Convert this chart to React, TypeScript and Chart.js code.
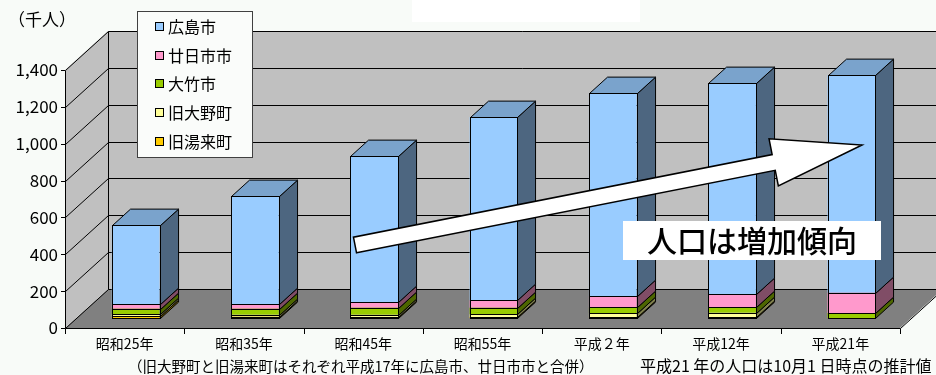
import React, { useEffect, useRef } from 'react';
import { Chart, registerables } from 'chart.js';

Chart.register(...registerables);

const categories = ['昭和25年', '昭和35年', '昭和45年', '昭和55年', '平成２年', '平成12年', '平成21年'];
const hiroshima = [431, 588, 794, 995, 1102, 1147, 1181];
const hatsukaichi = [24, 24, 30, 40, 62, 70, 110];
const otake = [30, 33, 38, 36, 31, 30, 27];
const ono = [11, 10, 11, 14, 20, 22, 0];
const yuki = [9, 7, 6, 6, 6, 6, 0];

const seriesNames = ['旧湯来町', '旧大野町', '大竹市', '廿日市市', '広島市'];
const seriesColors = ['#FFCC00', '#FFFF99', '#99CC00', '#FF99CC', '#99CCFF'];
const seriesData = [yuki, ono, otake, hatsukaichi, hiroshima];
const legendOrder = [4, 3, 2, 1, 0];

const yMax = 1400;
const yStep = 200;
const unitLabel = '（千人）';
const noteLeft = '（旧大野町と旧湯来町はそれぞれ平成17年に広島市、廿日市市と合併）';
const noteRight = '平成21 年の人口は10月1 日時点の推計値';
const calloutText = '人口は増加傾向';

const FONT = '"Noto Sans CJK JP", "Noto Sans", sans-serif';
const BG = '#f8fbf8';
const DX = 43;
const DY = 39;
const BAR_OFF = 0.26;
const BAR_DEPTH = 0.42;

function shade(hex: string, f: number) {
  const n = parseInt(hex.slice(1), 16);
  const r = Math.round(((n >> 16) & 255) * f);
  const g = Math.round(((n >> 8) & 255) * f);
  const b = Math.round((n & 255) * f);
  return `rgb(${r},${g},${b})`;
}

function poly(ctx: CanvasRenderingContext2D, pts: number[][], fill?: string, stroke?: string, lw = 1) {
  ctx.beginPath();
  ctx.moveTo(pts[0][0], pts[0][1]);
  for (let i = 1; i < pts.length; i++) ctx.lineTo(pts[i][0], pts[i][1]);
  ctx.closePath();
  if (fill) {
    ctx.fillStyle = fill;
    ctx.fill();
  }
  if (stroke) {
    ctx.strokeStyle = stroke;
    ctx.lineWidth = lw;
    ctx.stroke();
  }
}

function line(ctx: CanvasRenderingContext2D, pts: number[][], color = '#000', lw = 1) {
  ctx.beginPath();
  ctx.moveTo(pts[0][0], pts[0][1]);
  for (let i = 1; i < pts.length; i++) ctx.lineTo(pts[i][0], pts[i][1]);
  ctx.strokeStyle = color;
  ctx.lineWidth = lw;
  ctx.stroke();
}

const p = (v: number) => Math.round(v) + 0.5;

const threeDPlugin = {
  id: 'threeD',
  beforeDraw(chart: any) {
    const ctx = chart.ctx;
    ctx.save();
    ctx.fillStyle = BG;
    ctx.fillRect(0, 0, chart.width, chart.height);
    ctx.restore();
  },
  beforeDatasetsDraw(chart: any) {
    const ctx: CanvasRenderingContext2D = chart.ctx;
    const a = chart.chartArea;
    const y = chart.scales.y;
    const L = a.left, R = a.right, T = a.top, B = a.bottom;
    ctx.save();
    // floor
    poly(ctx, [[L, B], [R, B], [R + DX, B - DY], [L + DX, B - DY]], '#808080');
    // side wall
    poly(ctx, [[L, B], [L, T], [L + DX, T - DY], [L + DX, B - DY]], '#C0C0C0');
    // back wall
    ctx.fillStyle = '#C0C0C0';
    ctx.fillRect(L + DX, T - DY, chart.width, B - T);
    // gridlines
    y.ticks.forEach((t: any) => {
      const yy = y.getPixelForValue(t.value);
      line(ctx, [[p(L), p(yy)], [p(L + DX), p(yy - DY)], [chart.width + 5, p(yy - DY)]]);
    });
    line(ctx, [[p(L + DX), p(T - DY)], [p(L + DX), p(B - DY)]]);
    line(ctx, [[p(R), p(B)], [p(R + DX), p(B - DY)]]);
    ctx.restore();
    ctx.save();
    ctx.translate(Math.round(BAR_OFF * DX), -Math.round(BAR_OFF * DY));
  },
  afterDatasetsDraw(chart: any) {
    const ctx: CanvasRenderingContext2D = chart.ctx;
    const bdx = BAR_DEPTH * DX;
    const bdy = BAR_DEPTH * DY;
    const n = chart.data.labels.length;
    for (let j = 0; j < n; j++) {
      let topIdx = -1;
      for (let i = 0; i < seriesData.length; i++) if (seriesData[i][j]) topIdx = i;
      for (let i = 0; i < seriesData.length; i++) {
        if (!seriesData[i][j]) continue;
        const el = chart.getDatasetMeta(i).data[j];
        const { x, y: top, base, width } = el.getProps(['x', 'y', 'base', 'width'], true);
        const l = p(x - width / 2), r = p(x + width / 2);
        const tp = p(top), bs = p(base);
        poly(ctx, [[r, tp], [r + bdx, tp - bdy], [r + bdx, bs - bdy], [r, bs]], shade(seriesColors[i], 0.5), '#000');
        if (i === topIdx) {
          poly(ctx, [[l, tp], [l + bdx, tp - bdy], [r + bdx, tp - bdy], [r, tp]], shade(seriesColors[i], 0.8), '#000');
        }
        ctx.strokeStyle = '#000';
        ctx.lineWidth = 1;
        ctx.strokeRect(l, tp, r - l, bs - tp);
      }
    }
    ctx.restore();
    const a = chart.chartArea;
    const yS = chart.scales.y;
    ctx.save();
    line(ctx, [[p(a.left), p(a.top)], [p(a.left), p(a.bottom)], [p(a.right), p(a.bottom)]]);
    yS.ticks.forEach((t: any) => {
      const yy = p(yS.getPixelForValue(t.value));
      line(ctx, [[a.left - 4, yy], [a.left, yy]]);
    });
    for (let k = 0; k <= n; k++) {
      const xx = p(a.left + (k * (a.right - a.left)) / n);
      line(ctx, [[xx, p(a.bottom)], [xx, a.bottom + 6]]);
    }
    ctx.restore();
  },
  afterDraw(chart: any) {
    const ctx: CanvasRenderingContext2D = chart.ctx;
    ctx.save();
    ctx.fillStyle = '#ffffff';
    ctx.fillRect(412, 0, 228, 22);
    ctx.fillStyle = '#000';
    ctx.font = `17px ${FONT}`;
    ctx.textBaseline = 'middle';
    ctx.textAlign = 'left';
    ctx.fillText(unitLabel, 8, 20);
    // legend
    ctx.fillStyle = '#fafcfa';
    ctx.fillRect(137.5, 11.5, 115, 146);
    ctx.strokeStyle = '#404040';
    ctx.lineWidth = 1;
    ctx.strokeRect(137.5, 11.5, 115, 146);
    ctx.font = `16px ${FONT}`;
    legendOrder.forEach((si, k) => {
      const cy = 27 + k * 28.7;
      ctx.fillStyle = seriesColors[si];
      ctx.fillRect(155.5, Math.round(cy) - 4.5, 8, 8);
      ctx.strokeStyle = '#000';
      ctx.strokeRect(155.5, Math.round(cy) - 4.5, 8, 8);
      ctx.fillStyle = '#000';
      ctx.fillText(seriesNames[si], 168, cy);
    });
    ctx.font = `14.5px ${FONT}`;
    ctx.fillText(noteLeft, 128, 366);
    ctx.font = `16px ${FONT}`;
    ctx.fillText(noteRight, 640, 366);
    // arrow
    const tail = [355, 245];
    const tip = [862, 145];
    const ux0 = tip[0] - tail[0], uy0 = tip[1] - tail[1];
    const len = Math.hypot(ux0, uy0);
    const ux = ux0 / len, uy = uy0 / len;
    const nx = -uy, ny = ux;
    const sw = 8, hl = 90, hw = 24;
    const bx = tip[0] - ux * hl, by = tip[1] - uy * hl;
    ctx.lineJoin = 'miter';
    poly(ctx, [
      [tail[0] + nx * sw, tail[1] + ny * sw],
      [bx + nx * sw, by + ny * sw],
      [bx + nx * hw, by + ny * hw],
      [tip[0], tip[1]],
      [bx - nx * hw, by - ny * hw],
      [bx - nx * sw, by - ny * sw],
      [tail[0] - nx * sw, tail[1] - ny * sw],
    ], '#ffffff', '#000', 1.5);
    ctx.fillStyle = '#ffffff';
    ctx.fillRect(623, 221, 258, 39);
    ctx.fillStyle = '#000';
    ctx.font = `500 30px ${FONT}`;
    ctx.textAlign = 'center';
    ctx.fillText(calloutText, 752, 241);
    ctx.restore();
  },
};

export default function App() {
  const ref = useRef<HTMLCanvasElement>(null);
  useEffect(() => {
    if (!ref.current) return;
    const chart = new Chart(ref.current, {
      type: 'bar',
      data: {
        labels: categories,
        datasets: seriesData.map((d, i) => ({
          label: seriesNames[i],
          data: d,
          backgroundColor: seriesColors[i],
          borderWidth: 0,
          categoryPercentage: 1,
          barPercentage: 0.4,
        })),
      },
      options: {
        responsive: false,
        animation: false,
        devicePixelRatio: 1,
        layout: { padding: { left: 0, right: 36, top: 70, bottom: 0 } },
        plugins: { legend: { display: false }, tooltip: { enabled: false }, title: { display: false } },
        scales: {
          x: {
            stacked: true,
            offset: true,
            grid: { display: false, drawTicks: false },
            border: { display: false },
            ticks: { color: '#000', font: { size: 14, family: FONT }, padding: 7, maxRotation: 0, autoSkip: false },
            afterFit: (s: any) => { s.height = 47; },
          },
          y: {
            stacked: true,
            min: 0,
            max: yMax,
            grid: { display: false, drawTicks: false },
            border: { display: false },
            ticks: {
              stepSize: yStep,
              color: '#000',
              font: { size: 17, family: FONT },
              padding: 7,
              callback: (v: any) => Number(v).toLocaleString('en-US'),
            },
            afterFit: (s: any) => { s.width = 65; },
          },
        },
      },
      plugins: [threeDPlugin],
    } as any);
    return () => chart.destroy();
  }, []);
  return (
    <div style={{ position: 'fixed', left: 0, top: 0, width: 936, height: 375 }}>
      <canvas ref={ref} width={936} height={375} style={{ display: 'block' }} />
    </div>
  );
}
